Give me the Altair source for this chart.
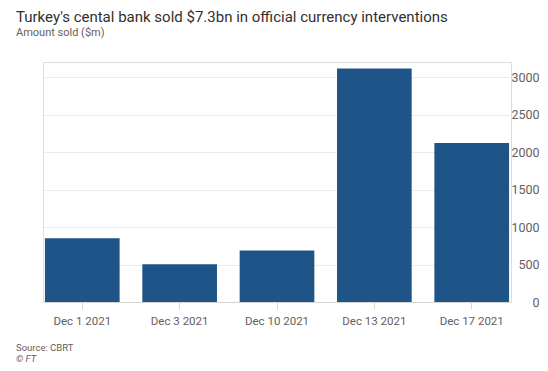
import altair as alt
import pandas as pd

dates = ["Dec 1 2021", "Dec 3 2021", "Dec 10 2021", "Dec 13 2021", "Dec 17 2021"]
amounts = [849, 505, 688, 3115, 2121]
y_ticks = [0, 500, 1000, 1500, 2000, 2500, 3000]

title_text = "Turkey's cental bank sold $7.3bn in official currency interventions"
subtitle_text = "Amount sold ($m)"
source_text = "Source: CBRT"
credit_text = "© FT"

df = pd.DataFrame({"date": dates, "amount": amounts})

FONT = "Roboto, sans-serif"
GRAY = "#66605c"

bars = alt.Chart(df).mark_bar(color="#1f5489").encode(
    x=alt.X(
        "date:N",
        sort=dates,
        title=None,
        scale=alt.Scale(paddingInner=0.233, paddingOuter=0.02),
        axis=alt.Axis(
            labelAngle=0,
            labelFont=FONT,
            labelFontSize=11.5,
            labelColor=GRAY,
            labelPadding=6,
            domainColor="#d6d6d6",
            tickColor="#d6d6d6",
            tickSize=7,
            grid=False,
        ),
    ),
    y=alt.Y(
        "amount:Q",
        title=None,
        scale=alt.Scale(domain=[0, 3200], nice=False),
        axis=alt.Axis(
            orient="right",
            values=y_ticks,
            format="d",
            labelFont=FONT,
            labelFontSize=12.5,
            labelColor=GRAY,
            labelAlign="right",
            labelPadding=28,
            domain=False,
            ticks=False,
            gridColor="#ebebeb",
        ),
    ),
)

src = alt.Chart(pd.DataFrame({"t": [source_text]})).mark_text(
    align="left", baseline="alphabetic", font=FONT, fontSize=9.5, color=GRAY
).encode(x=alt.value(-27), y=alt.value(289), text="t:N")

cred = alt.Chart(pd.DataFrame({"t": [credit_text]})).mark_text(
    align="left", baseline="alphabetic", font=FONT, fontSize=9.5, color=GRAY, fontStyle="italic"
).encode(x=alt.value(-27), y=alt.value(300), text="t:N")

chart = alt.layer(bars, src, cred).properties(
    width=468,
    height=240,
    autosize=alt.AutoSizeParams(type="none"),
    padding={"left": 35, "top": 54, "right": 29, "bottom": 61},
    title=alt.TitleParams(
        text=title_text,
        subtitle=subtitle_text,
        anchor="start",
        frame="group",
        dx=-27,
        offset=24,
        font=FONT,
        fontSize=15,
        fontWeight="normal",
        color="#33302e",
        subtitleFont=FONT,
        subtitleFontSize=11,
        subtitleColor=GRAY,
        subtitlePadding=2,
    ),
).configure_view(stroke=None).configure(background="white")

chart.save("out.html", embed_options={"renderer": "svg", "actions": False})
